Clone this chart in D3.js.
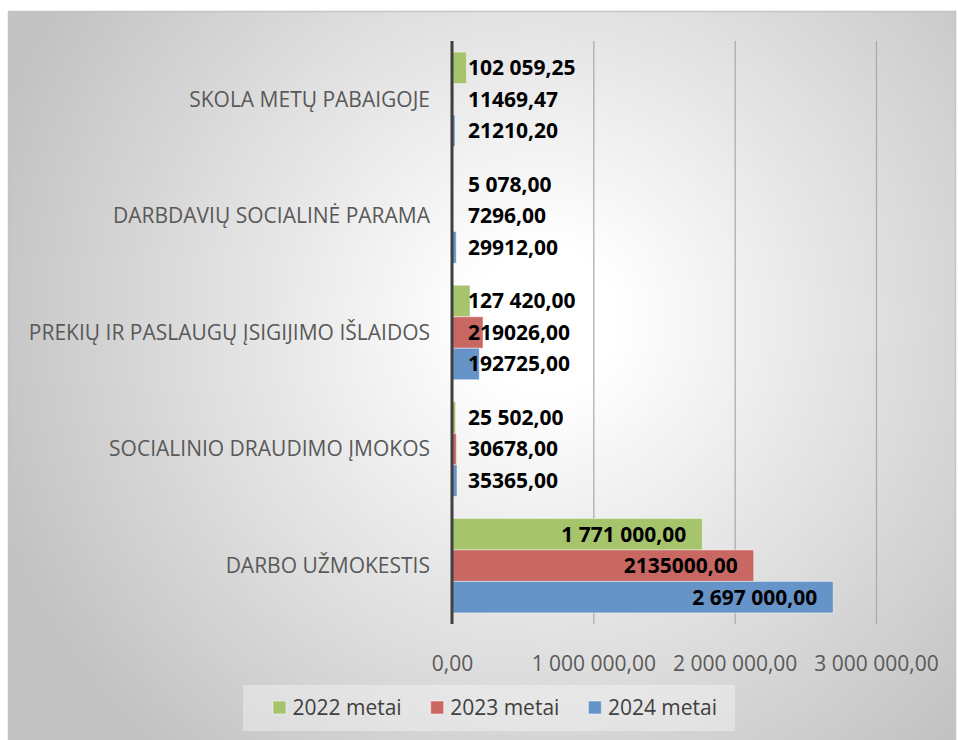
<!DOCTYPE html>
<html>
<head>
<meta charset="utf-8">
<script src="https://cdn.jsdelivr.net/npm/d3@7"></script>
<style>
  body { margin: 0; background: #fff; }
  text { font-family: "Open Sans", sans-serif; }
</style>
</head>
<body>
<div id="chart"></div>
<script>
// categories, top to bottom
var categories = [
    "SKOLA METŲ PABAIGOJE",
    "DARBDAVIŲ SOCIALINĖ PARAMA",
    "PREKIŲ IR PASLAUGŲ ĮSIGIJIMO IŠLAIDOS",
    "SOCIALINIO DRAUDIMO ĮMOKOS",
    "DARBO UŽMOKESTIS"
];

var seriesNames = ["2022 metai", "2023 metai", "2024 metai"];
var seriesColors = ["#a6c46c", "#c96763", "#6693c8"];

var values2022 = [102059.25, 5078, 127420, 25502, 1771000];
var values2023 = [11469.47, 7296, 219026, 30678, 2135000];
var values2024 = [21210.20, 29912, 192725, 35365, 2697000];

// labels as written on the chart
var labels2022 = ["102 059,25", "5 078,00", "127 420,00", "25 502,00", "1 771 000,00"];
var labels2023 = ["11469,47", "7296,00", "219026,00", "30678,00", "2135000,00"];
var labels2024 = ["21210,20", "29912,00", "192725,00", "35365,00", "2 697 000,00"];

var tickValues = [0, 1000000, 2000000, 3000000];
var tickLabels = ["0,00", "1 000 000,00", "2 000 000,00", "3 000 000,00"];

var width = 958,
    height = 740;

var series = [
    {name: seriesNames[0], color: seriesColors[0], values: values2022, labels: labels2022},
    {name: seriesNames[1], color: seriesColors[1], values: values2023, labels: labels2023},
    {name: seriesNames[2], color: seriesColors[2], values: values2024, labels: labels2024}
];

var svg = d3.select("#chart")
    .append("svg")
    .attr("width", width)
    .attr("height", height);

// background
var defs = svg.append("defs");
var grad = defs.append("radialGradient")
    .attr("id", "bg")
    .attr("gradientUnits", "userSpaceOnUse")
    .attr("cx", 545).attr("cy", 320).attr("r", 580);
grad.append("stop").attr("offset", "0").attr("stop-color", "#ffffff");
grad.append("stop").attr("offset", "0.12").attr("stop-color", "#ffffff");
grad.append("stop").attr("offset", "1").attr("stop-color", "#c2c2c2");

svg.append("rect")
    .attr("x", 8.5).attr("y", 11.5)
    .attr("width", 947).attr("height", 740)
    .attr("fill", "url(#bg)")
    .attr("stroke", "#c4c4c4")
    .attr("stroke-width", 1.5);

// scales
var x = d3.scaleLinear()
    .domain([0, 3000000])
    .range([452, 876]);

var y = d3.scaleBand()
    .domain(categories)
    .range([41, 624])
    .paddingInner(0.19)
    .paddingOuter(0.095);

var y1 = d3.scaleBand()
    .domain(seriesNames)
    .range([0, y.bandwidth()]);

// gridlines + tick labels
var xAxis = d3.axisBottom(x)
    .tickValues(tickValues)
    .tickSize(-(624 - 41))
    .tickFormat(function(d, i) { return tickLabels[i]; });

var gx = svg.append("g")
    .attr("transform", "translate(0,624)")
    .call(xAxis);
gx.select(".domain").remove();
gx.selectAll(".tick line")
    .attr("stroke", "#a8a8a8")
    .attr("stroke-width", 1.2);
gx.selectAll(".tick text")
    .attr("y", 32)
    .attr("fill", "#595959")
    .style("font-size", "21px")
    .style("font-family", "'Open Sans', sans-serif");

// bars
var groups = svg.append("g")
    .attr("class", "bars")
    .selectAll("g")
    .data(series)
    .enter()
    .append("g");

groups.selectAll("rect")
    .data(function(s) {
        return s.values.map(function(v, i) {
            return {cat: categories[i], value: v, label: s.labels[i], name: s.name, color: s.color};
        });
    })
    .enter()
    .append("rect")
    .attr("x", x(0))
    .attr("y", function(d) { return y(d.cat) + y1(d.name); })
    .attr("width", function(d) { return x(d.value) - x(0); })
    .attr("height", y1.bandwidth())
    .attr("fill", function(d) { return d.color; })
    .attr("stroke", "rgba(255,255,255,0.45)")
    .attr("stroke-width", 1);

// data labels
groups.selectAll("text")
    .data(function(s) {
        return s.values.map(function(v, i) {
            return {cat: categories[i], value: v, label: s.labels[i], name: s.name};
        });
    })
    .enter()
    .append("text")
    .attr("y", function(d) { return y(d.cat) + y1(d.name) + y1.bandwidth() / 2; })
    .attr("dy", "0.35em")
    .style("font-size", "21px")
    .style("font-weight", "bold")
    .attr("fill", "#000")
    .text(function(d) { return d.label; })
    .attr("x", function(d) {
        var w = this.getComputedTextLength();
        return Math.max(x(d.value) - 16 - w, x(0) + 16);
    });

// category axis line
svg.append("line")
    .attr("x1", x(0)).attr("x2", x(0))
    .attr("y1", 41).attr("y2", 624)
    .attr("stroke", "#404040")
    .attr("stroke-width", 3);

// category labels
svg.append("g")
    .selectAll("text")
    .data(categories)
    .enter()
    .append("text")
    .attr("x", 430)
    .attr("y", function(d) { return y(d) + y.bandwidth() / 2; })
    .attr("dy", "0.35em")
    .attr("text-anchor", "end")
    .attr("fill", "#595959")
    .style("font-size", "21px")
    .text(function(d) { return d; });

// legend
var legend = svg.append("g");
legend.append("rect")
    .attr("x", 243).attr("y", 685)
    .attr("width", 492).attr("height", 46)
    .attr("fill", "rgba(255,255,255,0.35)");

var lx = 273;
series.forEach(function(s) {
    legend.append("rect")
        .attr("x", lx).attr("y", 701)
        .attr("width", 13).attr("height", 13)
        .attr("fill", s.color)
        .attr("stroke", "rgba(255,255,255,0.5)");
    var t = legend.append("text")
        .attr("x", lx + 19.5)
        .attr("y", 708)
        .attr("dy", "0.35em")
        .attr("fill", "#404040")
        .style("font-size", "21px")
        .text(s.name);
    lx += 19.5 + t.node().getComputedTextLength() + 29;
});
</script>
</body>
</html>
